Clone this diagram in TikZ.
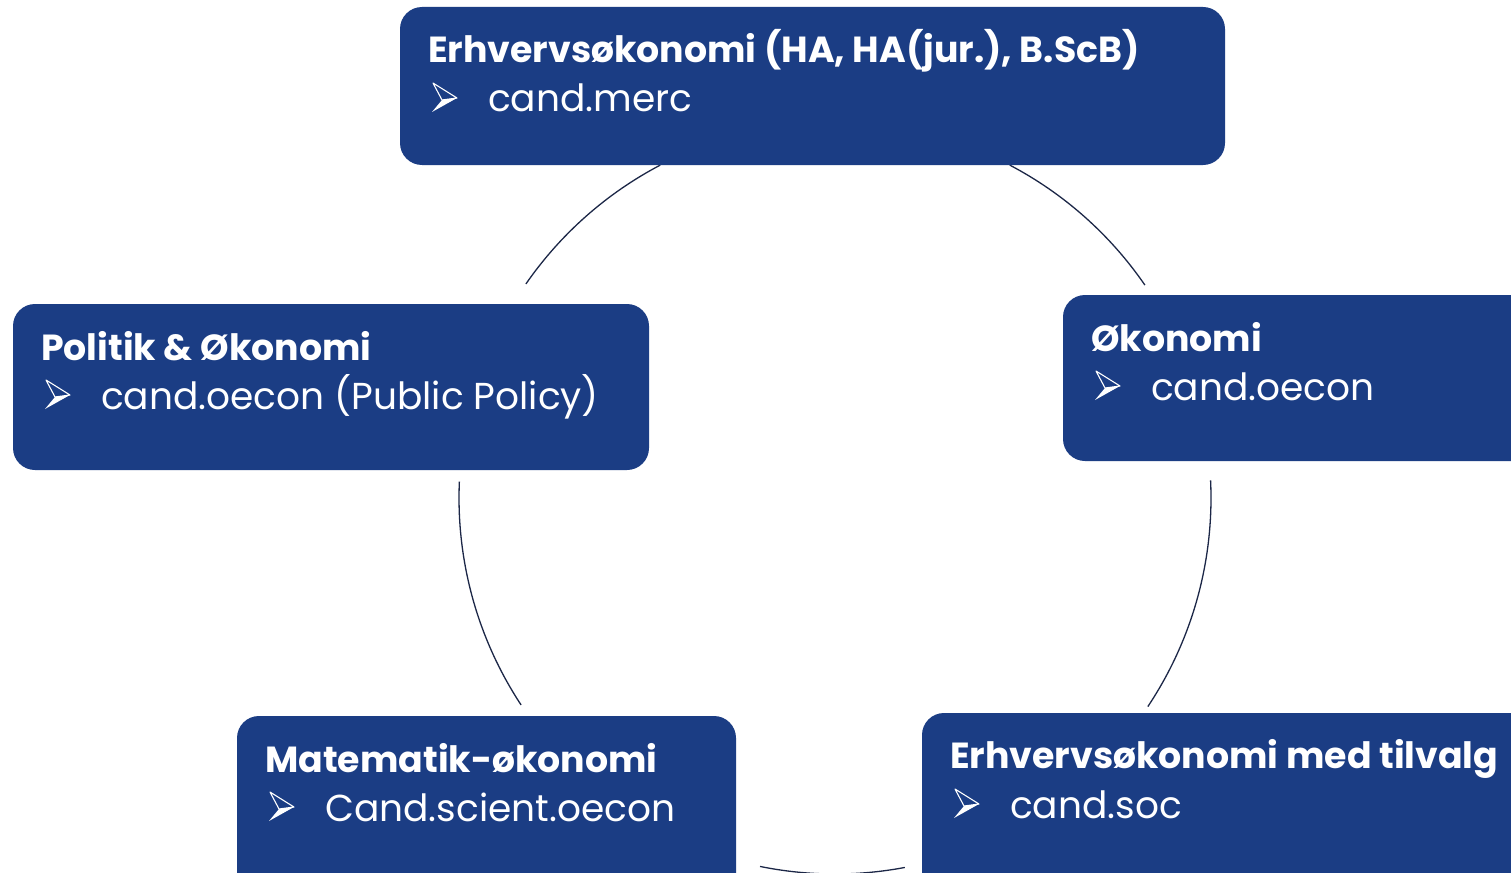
\documentclass[tikz,border=0pt]{standalone}
\usepackage{fontspec}
\setmainfont{Poppins}
\usepackage{xcolor}
\usetikzlibrary{positioning}
\definecolor{cbsblue}{HTML}{1B3D84}
\definecolor{ringcol}{HTML}{1C2747}
\tikzset{
  progbox/.style={
    fill=cbsblue,
    rounded corners=22pt,
    inner sep=0pt
  },
  headtext/.style={
    anchor=base west,
    inner sep=0pt,
    text=white,
    font=\fontsize{36.3}{40}\selectfont\bfseries
  },
  degtext/.style={
    anchor=base west,
    inner sep=0pt,
    text=white,
    font=\fontsize{37.5}{40}\selectfont
  },
  ring/.style={draw=ringcol,line width=1.3pt},
  bulletarrow/.pic={
    \draw[white,line width=1.1pt,line join=round] (3,-29) -- (27,-14) -- (12,-12) -- cycle;
    \fill[white] (12,-12) -- (27,-14) -- (2,0) -- cycle;
  }
}
\begin{document}
\begin{tikzpicture}[x=1pt,y=-1pt]
  \useasboundingbox (0,0) rectangle (1511,872);
  \clip (0,0) rectangle (1511,872);
  \fill[white] (0,0) rectangle (1511,872);
  % ring behind the boxes, broken where it meets them
  \coordinate (c) at (835,498);
  \begin{scope}[shift={(c)},y=1pt]
    \draw[ring] (117.7:376) arc[start angle=117.7,end angle=145.3,radius=376];
    \draw[ring] (62.3:376) arc[start angle=62.3,end angle=34.5,radius=376];
    \draw[ring] (177.5:376) arc[start angle=177.5,end angle=213.4,radius=376];
    \draw[ring] (2.7:376) arc[start angle=2.7,end angle=-33.7,radius=376];
    \draw[ring] (258.5:376) arc[start angle=258.5,end angle=280.7,radius=376];
  \end{scope}
  % programme boxes
  \node[progbox,minimum width=825pt,minimum height=158pt] (ha) at (812.5,86) {};
  \node[progbox,minimum width=636pt,minimum height=166pt] (pol) at (331,387) {};
  \node[progbox,minimum width=480pt,minimum height=166pt] (oek) at (1303,378) {};
  \node[progbox,minimum width=499pt,minimum height=184pt] (mat) at (486.5,808) {};
  \node[progbox,minimum width=618pt,minimum height=187pt] (til) at (1231,806.5) {};
  % texts
  \node[headtext] (hahead) at (428,63) {Erhvervsøkonomi (HA, HA(jur.), B.ScB)};
  \pic (habul) at (430,112) {bulletarrow};
  \node[degtext] (hadeg) at (488,112) {cand.merc};
  \node[headtext] (polhead) at (41,360) {Politik \& Økonomi};
  \pic (polbul) at (43,409) {bulletarrow};
  \node[degtext] (poldeg) at (101,409) {cand.oecon (Public Policy)};
  \node[headtext] (oekhead) at (1091,351) {Økonomi};
  \pic (oekbul) at (1093,400) {bulletarrow};
  \node[degtext] (oekdeg) at (1151,400) {cand.oecon};
  \node[headtext] (mathead) at (265,772) {Matematik-økonomi};
  \pic (matbul) at (267,821) {bulletarrow};
  \node[degtext] (matdeg) at (325,821) {Cand.scient.oecon};
  \node[headtext] (tilhead) at (950,768) {Erhvervsøkonomi med tilvalg};
  \pic (tilbul) at (952,818) {bulletarrow};
  \node[degtext] (tildeg) at (1010,818) {cand.soc};
\end{tikzpicture}
\end{document}
